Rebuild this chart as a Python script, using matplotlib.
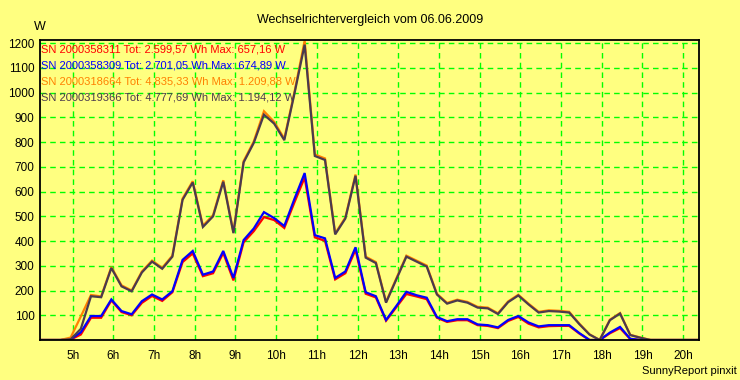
import numpy as np
import matplotlib
matplotlib.use("Agg")
import matplotlib.pyplot as plt

plt.rcParams['font.family'] = ['Liberation Sans', 'DejaVu Sans']

# 15 minute samples from 4:12 to 20:27
hours = np.arange(66) * 0.25 + 4.2

sn_311 = [0, 0, 0, 2, 22, 90, 90, 160, 113, 100, 150, 178, 158, 193, 315, 350,
          258, 270, 352, 241, 395, 440, 497, 485, 453, 557, 657, 415, 401, 245,
          270, 365, 187, 172, 78, 132, 186, 176, 165, 90, 73, 80, 80, 60, 57, 48,
          77, 93, 66, 51, 56, 57, 57, 26, 0, 0, 27, 48, 4, 0, 0, 0, 0, 0, 0, 0]
sn_309 = [0, 0, 0, 3, 31, 97, 97, 164, 117, 104, 157, 184, 164, 197, 324, 360,
          264, 277, 360, 251, 404, 451, 517, 493, 461, 571, 675, 424, 411, 251,
          277, 375, 193, 177, 81, 137, 195, 181, 171, 93, 76, 84, 84, 63, 60, 51,
          81, 97, 71, 55, 60, 60, 60, 28, 0, 0, 30, 53, 5, 0, 0, 0, 0, 0, 0, 0]
sn_664 = [0, 0, 0, 10, 95, 182, 176, 295, 221, 200, 277, 321, 292, 341, 572, 642,
          462, 505, 646, 436, 723, 803, 925, 882, 814, 1003, 1210, 750, 734, 431,
          495, 669, 337, 315, 154, 248, 341, 321, 301, 187, 150, 163, 154, 134, 131,
          108, 156, 183, 147, 114, 120, 118, 114, 66, 23, 0, 82, 109, 21, 10,
          0, 0, 0, 0, 0, 0]
sn_366 = [0, 0, 0, 3, 45, 177, 173, 291, 217, 197, 273, 317, 288, 337, 567, 637,
          457, 500, 640, 432, 718, 797, 911, 875, 808, 997, 1194, 744, 728, 427,
          491, 664, 333, 311, 151, 244, 337, 317, 297, 184, 147, 160, 151, 131, 128,
          105, 153, 180, 144, 111, 117, 115, 111, 64, 22, 0, 80, 107, 20, 9,
          0, 0, 0, 0, 0, 0]

labels = ["SN 2000358311 Tot: 2.599,57 Wh Max: 657,16 W",
          "SN 2000358309 Tot: 2.701,05 Wh Max: 674,89 W",
          "SN 2000318664 Tot: 4.835,33 Wh Max: 1.209,88 W",
          "SN 2000319366 Tot: 4.777,69 Wh Max: 1.194,12 W"]
colors = ["#ff0000", "#0000ff", "#ff8000", "#4a3a4e"]

x_ticks = list(range(5, 21))
x_labels = [f"{h}h" for h in x_ticks]
y_ticks = list(range(100, 1300, 100))

bg = "#ffff80"
fig = plt.figure(figsize=(7.4, 3.8), dpi=100, facecolor=bg)
ax = fig.add_axes([40 / 740, 40 / 380, 659 / 740, 300.5 / 380], facecolor=bg)

for series, c in zip([sn_311, sn_309, sn_664, sn_366], colors):
    ax.plot(hours, series, color=c, lw=1.6, solid_joinstyle='miter')

ax.set_xlim(4.197, 20.39)
ax.set_ylim(0, 1215)
ax.set_xticks(x_ticks)
ax.set_xticklabels(x_labels)
ax.set_yticks(y_ticks)
ax.tick_params(length=0, labelsize=8.5, pad=4)
ax.tick_params(axis='x', pad=7)
ax.grid(True, color="#00ff00", ls=(0, (4, 3)), lw=1)
ax.set_axisbelow(True)
for s in ax.spines.values():
    s.set_linewidth(1.3)
    s.set_color("black")

fig.text(0.5, 1 - 20.5 / 380, "Wechselrichtervergleich vom 06.06.2009",
         ha='center', va='center', fontsize=9)
fig.text(40 / 740, 1 - 26.5 / 380, "W", ha='center', va='center', fontsize=9)
fig.text(737 / 740, 1 - 370.5 / 380, "SunnyReport pinxit",
         ha='right', va='center', fontsize=8)

for i, (lab, c) in enumerate(zip(labels, colors)):
    fig.text(41 / 740, 1 - (49 + 16 * i) / 380, lab, color=c,
             ha='left', va='center', fontsize=8)

fig.savefig("out.png", dpi=100, facecolor=bg)
